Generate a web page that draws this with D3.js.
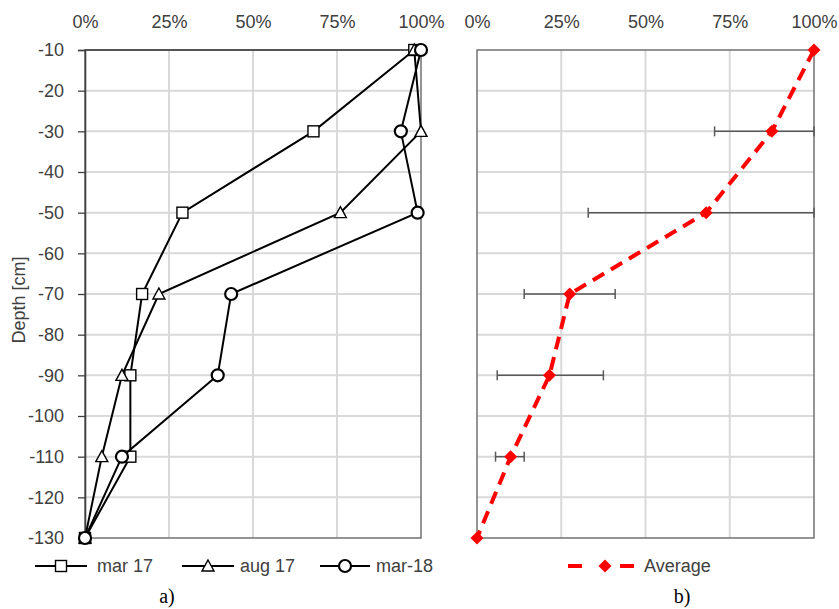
<!DOCTYPE html>
<html>
<head>
<meta charset="utf-8">
<script src="https://cdn.jsdelivr.net/npm/d3@7"></script>
<style>
  html, body { margin: 0; padding: 0; background: #fff; }
  svg { display: block; }
  text { font-family: "Liberation Sans", Arial, sans-serif; fill: #404040; }
</style>
</head>
<body>
<svg id="chart" width="839" height="609"></svg>
<script>
// ---- data ----
const depths = [-10, -30, -50, -70, -90, -110, -130];
const depthTicks = [-10, -20, -30, -40, -50, -60, -70, -80, -90, -100, -110, -120, -130];
const pctTicks = [0, 0.25, 0.5, 0.75, 1];
const seriesNames = ["mar 17", "aug 17", "mar-18"];
const mar17 = [0.98, 0.68, 0.29, 0.17, 0.135, 0.135, 0];
const aug17 = [0.98, 1.00, 0.76, 0.22, 0.11, 0.05, 0];
const mar18 = [1.00, 0.94, 0.99, 0.435, 0.395, 0.11, 0];
const average = [1.00, 0.875, 0.68, 0.275, 0.215, 0.10, 0];
const errLow  = [null, 0.705, 0.33, 0.14, 0.06, 0.055, null];
const errHigh = [null, 1.00, 1.00, 0.41, 0.375, 0.14, null];
const panelLabels = ["a)", "b)"];
const avgName = "Average";

const svg = d3.select("#chart");
const FS = "18px";

const y = d3.scaleLinear().domain([-10, -130]).range([50, 538]);
const xL = d3.scaleLinear().domain([0, 1]).range([85, 421]);
const xR = d3.scaleLinear().domain([0, 1]).range([477, 814]);

const gridColor = "#d9d9d9";
const borderColor = "#7a7a7a";

function drawFrame(x, withYAxis) {
  const g = svg.append("g");
  g.selectAll(".hg").data(depthTicks.slice(1, -1)).enter().append("line")
    .attr("x1", x(0)).attr("x2", x(1))
    .attr("y1", d => y(d)).attr("y2", d => y(d))
    .attr("stroke", gridColor).attr("stroke-width", 2);
  g.selectAll(".vg").data(pctTicks.slice(1, -1)).enter().append("line")
    .attr("x1", d => x(d)).attr("x2", d => x(d))
    .attr("y1", y(-10)).attr("y2", y(-130))
    .attr("stroke", gridColor).attr("stroke-width", 2);
  g.append("rect")
    .attr("x", x(0)).attr("y", y(-10))
    .attr("width", x(1) - x(0)).attr("height", y(-130) - y(-10))
    .attr("fill", "none").attr("stroke", borderColor).attr("stroke-width", 1.6);

  const ax = d3.axisTop(x).tickValues(pctTicks).tickFormat(d3.format(".0%")).tickSize(0).tickPadding(0);
  const axg = g.append("g").attr("transform", `translate(0,${y(-10)})`).call(ax);
  axg.select(".domain").remove();
  axg.selectAll("text")
    .attr("y", -28).attr("dy", "0.35em")
    .style("font-family", '"Liberation Sans", Arial, sans-serif')
    .style("font-size", FS).style("fill", "#404040");

  if (withYAxis) {
    const ay = d3.axisLeft(y).tickValues(depthTicks).tickFormat(d => String(d)).tickSize(7).tickPadding(14);
    const ayg = g.append("g").attr("transform", `translate(${x(0)},0)`).call(ay);
    ayg.select(".domain").attr("stroke", "#404040").attr("stroke-width", 1.6);
    ayg.selectAll(".tick line").attr("stroke", "#404040").attr("stroke-width", 1.3);
    ayg.selectAll("text")
      .style("font-family", '"Liberation Sans", Arial, sans-serif')
      .style("font-size", FS).style("fill", "#404040");
    g.append("line")
      .attr("x1", x(0)).attr("x2", x(1)).attr("y1", y(-10)).attr("y2", y(-10))
      .attr("stroke", "#404040").attr("stroke-width", 1.6);
  }
  return g;
}

drawFrame(xL, true);
drawFrame(xR, false);

svg.append("text")
  .attr("transform", `translate(19,${(y(-10) + y(-130)) / 2 + 6}) rotate(-90)`)
  .attr("text-anchor", "middle").attr("dy", "0.35em")
  .style("font-size", FS)
  .text("Depth [cm]");

// ---- left panel series ----
const seriesData = [mar17, aug17, mar18];
const shapes = ["square", "triangle", "circle"];

function marker(g, shape, cx, cy) {
  if (shape === "square") {
    g.append("rect").attr("x", cx - 5.5).attr("y", cy - 5.5).attr("width", 11).attr("height", 11)
      .attr("fill", "#fff").attr("stroke", "#000").attr("stroke-width", 1.4);
  } else if (shape === "triangle") {
    g.append("path")
      .attr("d", `M${cx},${cy - 6}L${cx + 6},${cy + 5}L${cx - 6},${cy + 5}Z`)
      .attr("fill", "#fff").attr("stroke", "#000").attr("stroke-width", 1.4);
  } else {
    g.append("circle").attr("cx", cx).attr("cy", cy).attr("r", 6)
      .attr("fill", "#fff").attr("stroke", "#000").attr("stroke-width", 2.2);
  }
}

const lineL = d3.line().x(d => xL(d[0])).y(d => y(d[1]));
seriesData.forEach((vals, i) => {
  const pts = vals.map((v, j) => [v, depths[j]]);
  const g = svg.append("g");
  g.append("path").attr("d", lineL(pts))
    .attr("fill", "none").attr("stroke", "#000").attr("stroke-width", 2);
  pts.forEach(p => marker(g, shapes[i], xL(p[0]), y(p[1])));
});

// ---- right panel ----
const gR = svg.append("g");
depths.forEach((dp, j) => {
  if (errLow[j] === null) return;
  const cy = y(dp);
  gR.append("line").attr("x1", xR(errLow[j])).attr("x2", xR(errHigh[j]))
    .attr("y1", cy).attr("y2", cy).attr("stroke", "#595959").attr("stroke-width", 1.5);
  [errLow[j], errHigh[j]].forEach(v => {
    gR.append("line").attr("x1", xR(v)).attr("x2", xR(v))
      .attr("y1", cy - 5).attr("y2", cy + 5).attr("stroke", "#595959").attr("stroke-width", 1.5);
  });
});
const lineR = d3.line().x(d => xR(d[0])).y(d => y(d[1]));
const avgPts = average.map((v, j) => [v, depths[j]]);
gR.append("path").attr("d", lineR(avgPts))
  .attr("fill", "none").attr("stroke", "#ff0000").attr("stroke-width", 4)
  .attr("stroke-dasharray", "13,8");
function diamond(g, cx, cy, r) {
  g.append("path").attr("d", `M${cx},${cy - r}L${cx + r},${cy}L${cx},${cy + r}L${cx - r},${cy}Z`)
    .attr("fill", "#ff0000");
}
avgPts.forEach(p => diamond(gR, xR(p[0]), y(p[1]), 6.5));

// ---- legends ----
const legY = 566;
const legItems = [
  { line: [35, 87], text: 97 },
  { line: [182, 234], text: 240 },
  { line: [320, 370], text: 376 }
];
legItems.forEach((it, i) => {
  const g = svg.append("g");
  g.append("line").attr("x1", it.line[0]).attr("x2", it.line[1])
    .attr("y1", legY).attr("y2", legY).attr("stroke", "#000").attr("stroke-width", 2);
  marker(g, shapes[i], (it.line[0] + it.line[1]) / 2, legY);
  g.append("text").attr("x", it.text).attr("y", legY).attr("dy", "0.35em")
    .style("font-size", FS).text(seriesNames[i]);
});
{
  const g = svg.append("g");
  [[568, 582], [620, 634]].forEach(s => {
    g.append("line").attr("x1", s[0]).attr("x2", s[1]).attr("y1", legY).attr("y2", legY)
      .attr("stroke", "#ff0000").attr("stroke-width", 4);
  });
  diamond(g, 605, legY, 6.5);
  g.append("text").attr("x", 644).attr("y", legY).attr("dy", "0.35em")
    .style("font-size", FS).text(avgName);
}

[[167, panelLabels[0]], [682, panelLabels[1]]].forEach(d => {
  svg.append("text").attr("x", d[0]).attr("y", 596).attr("dy", "0.35em")
    .attr("text-anchor", "middle")
    .style("font-family", '"Liberation Serif", "Times New Roman", serif')
    .style("font-size", "20px").style("fill", "#000")
    .text(d[1]);
});
</script>
</body>
</html>
